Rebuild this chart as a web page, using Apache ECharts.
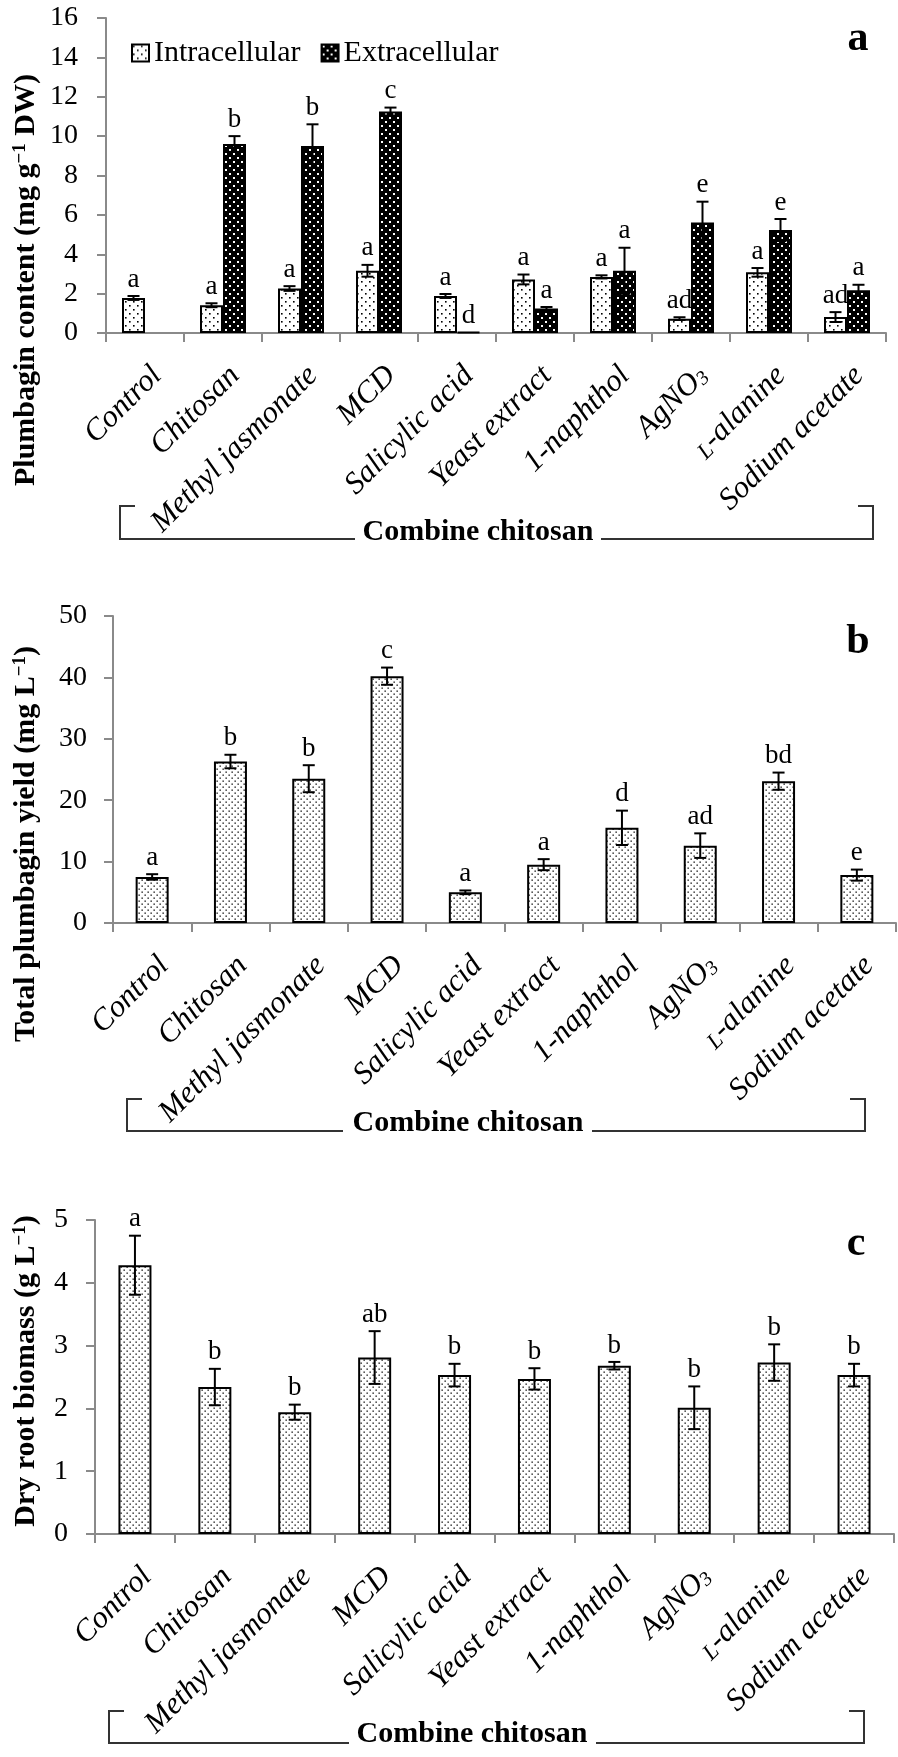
<!DOCTYPE html>
<html><head><meta charset="utf-8">
<script src="https://cdn.jsdelivr.net/npm/echarts@6/dist/echarts.min.js"></script>
<style>html,body{margin:0;padding:0;background:#fff}#c{width:898px;height:1757px}</style>
</head><body><div id="c"></div><script>
// ---------- data ----------
const categories = ['Control','Chitosan','Methyl jasmonate','MCD','Salicylic acid','Yeast extract','1-naphthol','AgNO3','L-alanine','Sodium acetate'];

// panel a: plumbagin content (mg g-1 DW)
const intraValues  = [1.78, 1.41, 2.26, 3.16, 1.88, 2.72, 2.85, 0.73, 3.08, 0.81];
const intraErrors  = [0.10, 0.10, 0.12, 0.30, 0.10, 0.25, 0.08, 0.07, 0.22, 0.25];
const intraLetters = ['a','a','a','a','a','a','a','ad','a','ad'];
const extraValues  = [null, 9.60, 9.50, 11.25, 0.05, 1.24, 3.16, 5.61, 5.23, 2.17];
const extraErrors  = [null, 0.40, 1.10, 0.20, 0, 0.08, 1.17, 1.06, 0.56, 0.28];
const extraLetters = ['', 'b','b','c','d','a','a','e','e','a'];

// panel b: total plumbagin yield (mg L-1)
const yieldValues  = [7.5, 26.3, 23.5, 40.2, 5.0, 9.5, 15.5, 12.6, 23.1, 7.8];
const yieldErrors  = [0.45, 1.1, 2.2, 1.4, 0.3, 0.9, 2.8, 2.0, 1.4, 0.9];
const yieldLetters = ['a','b','b','c','a','a','d','ad','bd','e'];

// panel c: dry root biomass (g L-1)
const biomassValues  = [4.28, 2.34, 1.94, 2.81, 2.53, 2.47, 2.68, 2.01, 2.73, 2.53];
const biomassErrors  = [0.47, 0.29, 0.12, 0.42, 0.18, 0.17, 0.06, 0.34, 0.29, 0.18];
const biomassLetters = ['a','b','b','ab','b','b','b','b','b','b'];

const seriesNames = ['Intracellular','Extracellular'];
const groupLabel = 'Combine chitosan';
const panelLabels = ['a','b','c'];

// ---------- styling ----------
const SERIF = "'Liberation Serif','Times New Roman',serif";

function dotPattern(bg, fg, size, dots, r) {
  const c = document.createElement('canvas');
  c.width = c.height = size;
  const ctx = c.getContext('2d');
  ctx.fillStyle = bg; ctx.fillRect(0, 0, size, size);
  ctx.fillStyle = fg;
  dots.forEach(d => ctx.fillRect(d[0], d[1], r, r));
  return c;
}
const intraFillA = { image: dotPattern('#fff', '#000', 8, [[1,1],[5,5]], 1.6), repeat: 'repeat' };
const extraFillA = { image: dotPattern('#000', '#fff', 8, [[1,1],[5,5]], 2), repeat: 'repeat' };
const intraFillBC = { image: dotPattern('#fff', '#000', 6, [[0.5,0.5],[3.5,3.5]], 1.3), repeat: 'repeat' };

const axisGrey = '#8a8a8a';

function catLabelFormatter(v) {
  if (v === 'AgNO3') return '{n|AgNO}{sub|3}';
  if (v === 'L-alanine') return '{sc|L}{n|-alanine}';
  return '{n|' + v + '}';
}
const catRich = {
  n:  { fontFamily: SERIF, fontStyle: 'italic', fontSize: 31, lineHeight: 31, color: '#000' },
  sub:{ fontFamily: SERIF, fontStyle: 'italic', fontSize: 20, lineHeight: 12, verticalAlign: 'bottom', color: '#000' },
  sc: { fontFamily: SERIF, fontStyle: 'italic', fontSize: 23, lineHeight: 23, verticalAlign: 'bottom', color: '#000' }
};

function xAxisFor(gi) {
  return {
    type: 'category', gridIndex: gi, data: categories,
    axisLine: { lineStyle: { color: axisGrey, width: 2 } },
    axisTick: { show: true, length: 9, lineStyle: { color: axisGrey, width: 2 } },
    axisLabel: { interval: 0, rotate: 45, margin: 26, padding: [34, 0, 0, 0],
      formatter: catLabelFormatter, rich: catRich }
  };
}
function yAxisFor(gi, max, interval, margin) {
  return {
    type: 'value', gridIndex: gi, min: 0, max: max, interval: interval,
    splitLine: { show: false },
    axisLine: { show: true, lineStyle: { color: axisGrey, width: 2 } },
    axisTick: { show: true, length: 9, lineStyle: { color: axisGrey, width: 2 } },
    axisLabel: { margin: margin, fontFamily: SERIF, fontSize: 28, color: '#000' }
  };
}

function errSeries(name, gi, values, errors, letters, offset, capHalf) {
  return {
    type: 'custom', name: name, xAxisIndex: gi, yAxisIndex: gi, z: 5,
    data: values.map((v, i) => [i, v == null ? 0 : v]),
    encode: { x: 0, y: 1 },
    renderItem: function (params, api) {
      const i = params.dataIndex;
      const v = values[i];
      if (v == null) return null;
      const e = errors[i] || 0;
      const top = api.coord([i, v + e]);
      const bot = api.coord([i, v - e]);
      const x = top[0] + offset;
      const children = [];
      if (e > 0) {
        const ls = { stroke: '#000', lineWidth: 2 };
        children.push({ type: 'line', shape: { x1: x, y1: top[1], x2: x, y2: bot[1] }, style: ls });
        children.push({ type: 'line', shape: { x1: x - capHalf, y1: top[1], x2: x + capHalf, y2: top[1] }, style: ls });
        children.push({ type: 'line', shape: { x1: x - capHalf, y1: bot[1], x2: x + capHalf, y2: bot[1] }, style: ls });
      }
      if (letters[i]) {
        children.push({ type: 'text', x: x, y: top[1] - 3,
          style: { text: letters[i], align: 'center', verticalAlign: 'bottom',
            fontFamily: SERIF, fontSize: 27, fill: '#000' } });
      }
      return { type: 'group', children: children };
    }
  };
}

function bracket(left, right, top, bottom, gapL, gapR, textX, textY) {
  const ls = { stroke: '#333', lineWidth: 2, fill: null };
  return [
    { type: 'polyline', shape: { points: [[left + 15, top], [left, top], [left, bottom], [gapL, bottom]] }, style: ls },
    { type: 'polyline', shape: { points: [[gapR, bottom], [right, bottom], [right, top], [right - 15, top]] }, style: ls },
    { type: 'text', x: textX, y: textY, style: { text: groupLabel, align: 'center', verticalAlign: 'middle',
      fontFamily: SERIF, fontWeight: 'bold', fontSize: 30, fill: '#000' } }
  ];
}
function yTitle(x, y, parts) {
  return { type: 'text', x: x, y: y, rotation: Math.PI / 2,
    style: { text: parts, align: 'center', verticalAlign: 'middle', fill: '#000',
      rich: {
        b: { fontFamily: SERIF, fontWeight: 'bold', fontSize: 30, lineHeight: 30, fill: '#000' },
        s: { fontFamily: SERIF, fontWeight: 'bold', fontSize: 19, lineHeight: 16, verticalAlign: 'top', fill: '#000' }
      } } };
}
function panelLetter(x, y, t) {
  return { type: 'text', x: x, y: y, style: { text: t, align: 'center', verticalAlign: 'middle',
    fontFamily: SERIF, fontWeight: 'bold', fontSize: 42, fill: '#000' } };
}

const chart = echarts.init(document.getElementById('c'), null, { renderer: 'canvas' });
chart.setOption({
  animation: false,
  backgroundColor: '#fff',
  grid: [
    { left: 106, top: 18, width: 780, height: 315 },
    { left: 113, top: 616, width: 783, height: 307 },
    { left: 95, top: 1220, width: 799, height: 314 }
  ],
  legend: {
    data: seriesNames, left: 126, top: 33, itemWidth: 17, itemHeight: 17, itemGap: 20,
    icon: 'rect', textStyle: { fontFamily: SERIF, fontSize: 30, color: '#000' },
    selectedMode: false
  },
  xAxis: [xAxisFor(0), xAxisFor(1), xAxisFor(2)],
  yAxis: [yAxisFor(0, 16, 2, 28), yAxisFor(1, 50, 10, 26), yAxisFor(2, 5, 1, 27)],
  series: [
    { type: 'bar', name: seriesNames[0], xAxisIndex: 0, yAxisIndex: 0, data: intraValues,
      barWidth: 23, barGap: '0%', itemStyle: { color: intraFillA, borderColor: '#000', borderWidth: 2 } },
    { type: 'bar', name: seriesNames[1], xAxisIndex: 0, yAxisIndex: 0, data: extraValues,
      barWidth: 23, barGap: '0%', itemStyle: { color: extraFillA, borderColor: '#000', borderWidth: 2 } },
    errSeries('errIntra', 0, intraValues, intraErrors, intraLetters, -11.5, 6),
    errSeries('errExtra', 0, extraValues, extraErrors, extraLetters, 11.5, 6),
    { type: 'bar', name: 'yield', xAxisIndex: 1, yAxisIndex: 1, data: yieldValues,
      barWidth: 33, itemStyle: { color: intraFillBC, borderColor: '#000', borderWidth: 2 } },
    errSeries('errYield', 1, yieldValues, yieldErrors, yieldLetters, 0, 6),
    { type: 'bar', name: 'biomass', xAxisIndex: 2, yAxisIndex: 2, data: biomassValues,
      barWidth: 33, itemStyle: { color: intraFillBC, borderColor: '#000', borderWidth: 2 } },
    errSeries('errBiomass', 2, biomassValues, biomassErrors, biomassLetters, 0, 6)
  ],
  graphic: [
    yTitle(26, 280, '{b|Plumbagin content (mg g}{s|−1}{b| DW)}'),
    yTitle(26, 844, '{b|Total plumbagin yield (mg L}{s|−1}{b|)}'),
    yTitle(26, 1371, '{b|Dry root biomass (g L}{s|−1}{b|)}'),
    panelLetter(858, 39, panelLabels[0]),
    panelLetter(858, 642, panelLabels[1]),
    panelLetter(856, 1244, panelLabels[2])
  ].concat(
    bracket(120, 873, 506, 539, 355, 601, 478, 532),
    bracket(127, 865, 1099, 1131, 343, 592, 468, 1123),
    bracket(109, 864, 1711, 1743, 349, 596, 472, 1734)
  )
});
</script></body></html>
